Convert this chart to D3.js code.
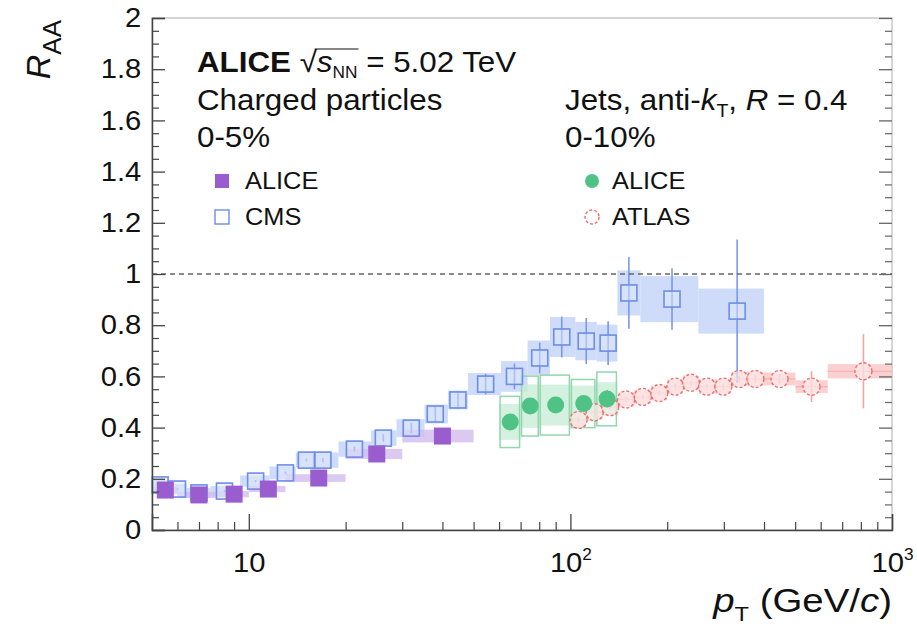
<!DOCTYPE html>
<html><head><meta charset="utf-8">
<script src="https://cdn.jsdelivr.net/npm/d3@7"></script>
<style>
body{margin:0;background:#fff;}
svg{display:block;font-family:"Liberation Sans",Arial,Helvetica,sans-serif;}
</style></head>
<body><svg id="c" width="917" height="629"></svg>
<script>
// ---------- data ----------
// ALICE charged particles 0-5%
const chPt   = [5.5, 7.0, 9.0, 11.5, 16.5, 25, 40];
const chLo   = [5, 6, 8, 10, 13, 20, 30];
const chHi   = [6, 8, 10, 13, 20, 30, 50];
const chR    = [0.156, 0.137, 0.140, 0.160, 0.203, 0.297, 0.367];
const chSys  = [0.012, 0.012, 0.012, 0.012, 0.015, 0.02, 0.025];
const chStat = [0.003, 0.003, 0.003, 0.004, 0.005, 0.008, 0.012];
// CMS charged particles 0-5%
const cmsPt   = [5.3, 6.0, 7.0, 8.4, 10.5, 13.0, 15.1, 17.0, 21.3, 26.2, 32.0, 38.0, 44.7, 54.5, 67.0, 80.3, 94, 112, 131, 152, 207, 330];
const cmsLo   = [5.0, 5.6, 6.4, 7.6, 9.4, 11.6, 14.0, 16.0, 19.0, 24.0, 28.8, 35.2, 41.6, 48.0, 60.8, 73.6, 86.4, 103.6, 120.8, 140, 165, 250];
const cmsHi   = [5.6, 6.4, 7.6, 9.4, 11.6, 14.0, 16.0, 19.0, 24.0, 28.8, 35.2, 41.6, 48.0, 60.8, 73.6, 86.4, 103.6, 120.8, 140, 165, 250, 400];
const cmsR    = [0.176, 0.160, 0.145, 0.152, 0.191, 0.223, 0.273, 0.273, 0.316, 0.359, 0.398, 0.453, 0.508, 0.570, 0.600, 0.672, 0.754, 0.738, 0.730, 0.926, 0.902, 0.855];
const cmsSys  = [0.02, 0.02, 0.02, 0.02, 0.022, 0.025, 0.03, 0.03, 0.03, 0.03, 0.035, 0.037, 0.037, 0.043, 0.06, 0.068, 0.078, 0.075, 0.072, 0.088, 0.09, 0.088];
const cmsStat = [0.003, 0.003, 0.003, 0.003, 0.004, 0.005, 0.006, 0.008, 0.01, 0.015, 0.02, 0.03, 0.035, 0.04, 0.05, 0.06, 0.08, 0.09, 0.085, 0.14, 0.12, 0.28];
// ALICE jets anti-kT R=0.4, 0-10%
const jaPt    = [65, 75, 90, 110, 130];
const jaLo    = [60, 70, 80, 100, 120];
const jaHi    = [70, 80, 100, 120, 140];
const jaR     = [0.422, 0.484, 0.488, 0.494, 0.512];
const jaShape = [0.10, 0.117, 0.117, 0.094, 0.105];
const jaCorr  = [0.07, 0.085, 0.08, 0.07, 0.065];
const jaStat  = [0.02, 0.02, 0.02, 0.025, 0.035];
// ATLAS jets 0-10%
const atPt   = [106, 119, 133, 149, 168, 189, 212, 237, 266, 299, 335, 376, 447, 562, 815];
const atLo   = [100, 112, 126, 141, 158, 178, 200, 224, 251, 282, 316, 355, 398, 501, 631];
const atHi   = [112, 126, 141, 158, 178, 200, 224, 251, 282, 316, 355, 398, 501, 631, 1000];
const atR    = [0.43, 0.46, 0.48, 0.51, 0.52, 0.535, 0.56, 0.575, 0.56, 0.56, 0.59, 0.59, 0.59, 0.56, 0.62];
const atSys  = [0.03, 0.03, 0.03, 0.028, 0.028, 0.028, 0.028, 0.028, 0.028, 0.028, 0.028, 0.028, 0.025, 0.025, 0.028];
const atStat = [0.01, 0.01, 0.01, 0.01, 0.01, 0.01, 0.01, 0.01, 0.01, 0.012, 0.012, 0.015, 0.02, 0.06, 0.145];
// axes
const yMajor = [0, 0.2, 0.4, 0.6, 0.8, 1, 1.2, 1.4, 1.6, 1.8, 2];
const yMinor = [0.05,0.1,0.15,0.25,0.3,0.35,0.45,0.5,0.55,0.65,0.7,0.75,0.85,0.9,0.95,1.05,1.1,1.15,1.25,1.3,1.35,1.45,1.5,1.55,1.65,1.7,1.75,1.85,1.9,1.95];
const xMajor = [10, 100, 1000];
const xMajorExp = ["", "2", "3"];
const xMinor = [6,7,8,9,20,30,40,50,60,70,80,90,200,300,400,500,600,700,800,900];

// ---------- scales ----------
const L = 152, R = 892, T = 18, B = 530;
const x = d3.scaleLog().domain([5, 1000]).range([L, R]);
const y = d3.scaleLinear().domain([0, 2]).range([B, T]);
const svg = d3.select("#c");
const SX = 1.08; // horizontal text stretch of the original figure

const zip = (a, ...rest) => a.map((v, i) => [v, ...rest.map(r => r[i])]);

// ---------- frame ----------
svg.append("rect").attr("x", L).attr("y", T).attr("width", R - L).attr("height", B - T)
  .attr("fill", "none").attr("stroke", "#c8c8c8").attr("stroke-width", 1.5);

const gData = svg.append("g");

function boxes(lo, hi, val, err, fill, op) {
  gData.append("g").selectAll("rect").data(zip(lo, hi, val, err)).join("rect")
    .attr("x", d => x(d[0])).attr("width", d => x(d[1]) - x(d[0]))
    .attr("y", d => y(d[2] + d[3])).attr("height", d => y(d[2] - d[3]) - y(d[2] + d[3]))
    .attr("fill", fill).attr("fill-opacity", op);
}
boxes(cmsLo, cmsHi, cmsR, cmsSys, "#bdd0f8", 0.75);
boxes(chLo, chHi, chR, chSys, "#d3bcef", 0.8);
boxes(atLo, atHi, atR, atSys, "#f9c4c4", 0.8);
boxes(jaLo, jaHi, jaR, jaCorr, "#c5ebd4", 0.75);
gData.append("g").selectAll("rect").data(zip(jaLo, jaHi, jaR, jaShape)).join("rect")
  .attr("x", d => x(d[0]) + 1).attr("width", d => x(d[1]) - x(d[0]) - 2)
  .attr("y", d => y(d[2] + d[3])).attr("height", d => y(d[2] - d[3]) - y(d[2] + d[3]))
  .attr("fill", "none").attr("stroke", "#92d6ad").attr("stroke-width", 1.5);

// dashed line at 1
svg.append("line").attr("x1", L).attr("x2", R).attr("y1", y(1)).attr("y2", y(1))
  .attr("stroke", "#666").attr("stroke-width", 1.3).attr("stroke-dasharray", "5,4");

// error bars
function errBars(pt, val, err, color, w) {
  gData.append("g").selectAll("line").data(zip(pt, val, err)).join("line")
    .attr("x1", d => x(d[0])).attr("x2", d => x(d[0]))
    .attr("y1", d => y(d[1] + d[2])).attr("y2", d => y(d[1] - d[2]))
    .attr("stroke", color).attr("stroke-width", w);
}
errBars(cmsPt, cmsR, cmsStat, "#7b98ea", 1.6);
errBars(atPt, atR, atStat, "#f4a3a3", 1.6);
errBars(jaPt, jaR, jaStat, "#5cc48d", 1.6);
errBars(chPt, chR, chStat, "#9a5dd0", 1.6);
gData.append("g").selectAll("line").data(zip(atLo, atHi, atR)).join("line")
  .attr("x1", d => x(d[0])).attr("x2", d => x(d[1]))
  .attr("y1", d => y(d[2])).attr("y2", d => y(d[2]))
  .attr("stroke", "#f6b3b3").attr("stroke-width", 1.2);

// CMS markers (open squares)
const ms = 16;
gData.append("g").selectAll("rect").data(zip(cmsPt, cmsR)).join("rect")
  .attr("x", d => x(d[0]) - ms / 2).attr("y", d => y(d[1]) - ms / 2)
  .attr("width", ms).attr("height", ms)
  .attr("fill", "#dfe8fc").attr("fill-opacity", 0.5).attr("stroke", "#6d8de8").attr("stroke-width", 1.6);

// ATLAS markers (open circles)
gData.append("g").selectAll("circle").data(zip(atPt, atR)).join("circle")
  .attr("cx", d => x(d[0])).attr("cy", d => y(d[1])).attr("r", 8.5)
  .attr("fill", "#fff0f0").attr("fill-opacity", 0.6).attr("stroke", "#ee6e6e").attr("stroke-width", 1.4)
  .attr("stroke-dasharray", "3,2");

// ALICE jets markers
gData.append("g").selectAll("circle").data(zip(jaPt, jaR)).join("circle")
  .attr("cx", d => x(d[0])).attr("cy", d => y(d[1])).attr("r", 8.5)
  .attr("fill", "#4fc285");

// ALICE charged markers
const cs = 17;
gData.append("g").selectAll("rect").data(zip(chPt, chR)).join("rect")
  .attr("x", d => x(d[0]) - cs / 2).attr("y", d => y(d[1]) - cs / 2)
  .attr("width", cs).attr("height", cs).attr("fill", "#9a5dd0");

// ---------- axes ----------
const axisColor = "#444";
const gL = svg.append("g").attr("transform", `translate(${L},0)`)
  .call(d3.axisLeft(y).tickValues(yMajor).tickSize(-13).tickPadding(10)
    .tickFormat(d => d3.format("~g")(d)));
gL.select(".domain").attr("stroke", axisColor).attr("stroke-width", 1.5);
gL.selectAll(".tick line").attr("stroke", axisColor).attr("stroke-width", 1.3);
gL.selectAll(".tick text").attr("font-size", 27).attr("fill", "#111")
  .attr("transform", `scale(${SX},1)`);
const gLm = svg.append("g").attr("transform", `translate(${L},0)`)
  .call(d3.axisLeft(y).tickValues(yMinor).tickSize(-7).tickFormat(""));
gLm.select(".domain").remove();
gLm.selectAll(".tick line").attr("stroke", axisColor).attr("stroke-width", 1.2);
const gR = svg.append("g").attr("transform", `translate(${R},0)`)
  .call(d3.axisRight(y).tickValues(yMajor).tickSize(-13).tickFormat(""));
gR.select(".domain").remove();
gR.selectAll(".tick line").attr("stroke", "#666").attr("stroke-width", 1.3);
const gRm = svg.append("g").attr("transform", `translate(${R},0)`)
  .call(d3.axisRight(y).tickValues(yMinor).tickSize(-7).tickFormat(""));
gRm.select(".domain").remove();
gRm.selectAll(".tick line").attr("stroke", "#666").attr("stroke-width", 1.2);

const gB = svg.append("g").attr("transform", `translate(0,${B})`)
  .call(d3.axisBottom(x).tickValues(xMajor).tickSize(-16).tickPadding(23).tickFormat(""));
gB.select(".domain").attr("stroke", axisColor).attr("stroke-width", 1.5);
gB.selectAll(".tick line").attr("stroke", axisColor).attr("stroke-width", 1.3);
gB.selectAll(".tick text").each(function (d, i) {
  const t = d3.select(this).attr("font-size", 27).attr("fill", "#111").attr("dy", "0.71em")
    .attr("transform", `scale(${SX},1)`);
  t.append("tspan").text("10");
  if (xMajorExp[i]) t.append("tspan").attr("font-size", 16).attr("dy", "-0.75em").text(xMajorExp[i]);
});
const gBm = svg.append("g").attr("transform", `translate(0,${B})`)
  .call(d3.axisBottom(x).tickValues(xMinor).tickSize(-8).tickFormat(""));
gBm.select(".domain").remove();
gBm.selectAll(".tick line").attr("stroke", axisColor).attr("stroke-width", 1.2);

// ---------- text helper ----------
function txt(px, py, size, sx) {
  return svg.append("text").attr("transform", `translate(${px},${py}) scale(${sx || SX},1)`)
    .attr("font-size", size).attr("fill", "#111");
}

// axis titles
const yt = svg.append("text").attr("transform", "translate(50,20) rotate(-90)")
  .attr("text-anchor", "end").attr("font-size", 34).attr("fill", "#111");
yt.append("tspan").attr("font-style", "italic").text("R");
yt.append("tspan").attr("font-size", 26).attr("dy", 11).text("AA");

const xt = txt(R, 612, 34, 1.13).attr("text-anchor", "end");
xt.append("tspan").attr("font-style", "italic").text("p");
xt.append("tspan").attr("font-size", 21).attr("dy", 9).text("T");
xt.append("tspan").attr("dy", -9).text(" (GeV/");
xt.append("tspan").attr("font-style", "italic").text("c");
xt.append("tspan").text(")");

// ---------- header texts ----------
const h1 = txt(197, 72, 29);
h1.append("tspan").attr("font-weight", "bold").text("ALICE");
h1.append("tspan").text(" \u221A");
h1.append("tspan").attr("font-style", "italic").text("s");
h1.append("tspan").attr("font-size", 16).attr("dy", 6).text("NN");
h1.append("tspan").attr("dy", -6).text(" = 5.02 TeV");
{
  const n = h1.node();
  const x0 = n.getStartPositionOfChar(7).x, x1 = n.getEndPositionOfChar(9).x;
  svg.append("line").attr("transform", `translate(197,72) scale(${SX},1)`)
    .attr("x1", x0 - 2).attr("x2", x1 + 1).attr("y1", -23).attr("y2", -23)
    .attr("stroke", "#111").attr("stroke-width", 1.1);
}

txt(197, 110, 29).text("Charged particles");
txt(197, 147, 29).text("0-5%");

const j1 = txt(565, 110, 29);
j1.append("tspan").text("Jets, anti-");
j1.append("tspan").attr("font-style", "italic").text("k");
j1.append("tspan").attr("font-size", 18).attr("dy", 7).text("T");
j1.append("tspan").attr("dy", -7).text(", ");
j1.append("tspan").attr("font-style", "italic").text("R");
j1.append("tspan").text(" = 0.4");
txt(565, 147, 29).text("0-10%");

// legend entries
const legY = [181, 217];
const lg = svg.append("g");
lg.append("rect").attr("x", 215).attr("y", legY[0] - 7).attr("width", 14).attr("height", 14).attr("fill", "#9a5dd0");
lg.append("rect").attr("x", 215).attr("y", legY[1] - 7).attr("width", 14).attr("height", 14)
  .attr("fill", "none").attr("stroke", "#6d8de8").attr("stroke-width", 1.4);
lg.append("circle").attr("cx", 592).attr("cy", legY[0]).attr("r", 7).attr("fill", "#4fc285");
lg.append("circle").attr("cx", 592).attr("cy", legY[1]).attr("r", 7).attr("fill", "none")
  .attr("stroke", "#ee6e6e").attr("stroke-width", 1.4).attr("stroke-dasharray", "3,2");
const legTxt = [["ALICE", 245, legY[0]], ["CMS", 245, legY[1]], ["ALICE", 612, legY[0]], ["ATLAS", 612, legY[1]]];
legTxt.forEach(d => txt(d[1], d[2] + 8, 23.5).text(d[0]));
</script>
</body></html>
